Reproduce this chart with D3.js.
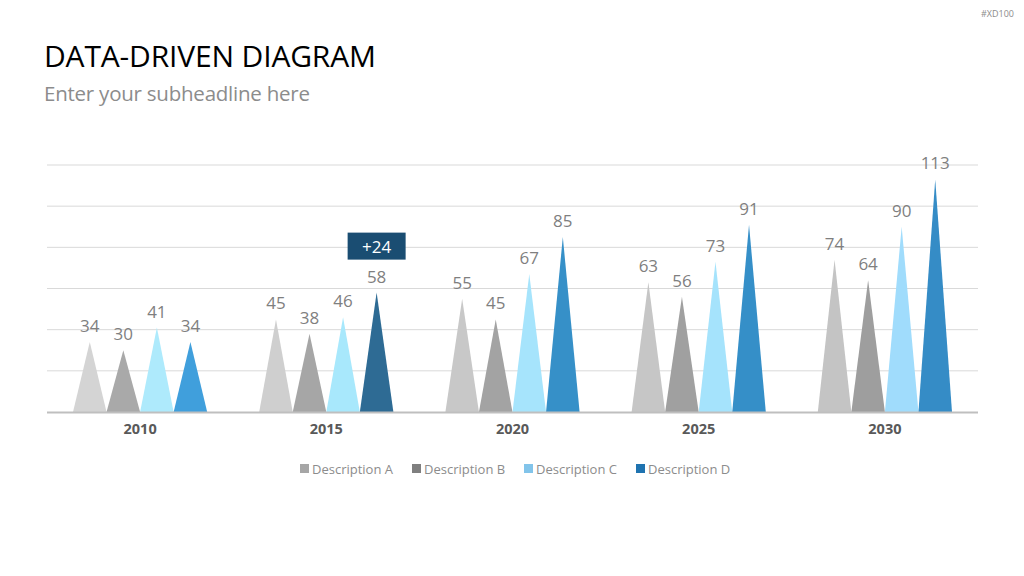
<!DOCTYPE html>
<html>
<head>
<meta charset="utf-8">
<script src="https://cdn.jsdelivr.net/npm/d3@7"></script>
<style>
  body { margin: 0; background: #fff; }
  svg text { font-family: "Open Sans", "Noto Sans", sans-serif; }
</style>
</head>
<body>
<div id="chart"></div>
<script>
// chart data
const years = ["2010", "2015", "2020", "2025", "2030"];
const seriesNames = ["Description A", "Description B", "Description C", "Description D"];
const descA = [34, 45, 55, 63, 74];
const descB = [30, 38, 45, 56, 64];
const descC = [41, 46, 67, 73, 90];
const descD = [34, 58, 85, 91, 113];
const yTicks = [0, 20, 40, 60, 80, 100, 120];
const callout = { year: "2015", series: "Description D", text: "+24" };

// colours (each year uses slightly different shades)
const legendColors = ["#a6a6a6", "#7f7f7f", "#82c4ea", "#1f73b0"];
const shadeColors = [
  ["#d4d4d4", "#a9a9a9", "#aeeafc", "#409fdc"],
  ["#cfcfcf", "#a6a6a6", "#a8e8fc", "#2e6b94"],
  ["#c8c8c8", "#a3a3a3", "#a6e4fc", "#3690c8"],
  ["#c6c6c6", "#a0a0a0", "#a5e3fc", "#358fc8"],
  ["#c4c4c4", "#9e9e9e", "#a0dcfc", "#358cc6"]
];

const width = 1024, height = 576;
const margin = { top: 165, right: 46, bottom: 164, left: 47 };

const svg = d3.select("#chart")
  .append("svg")
  .attr("width", width)
  .attr("height", height);

// headings
svg.append("text")
  .attr("x", 44).attr("y", 67)
  .attr("font-size", 30)
  .attr("fill", "#000")
  .attr("textLength", 332)
  .text("DATA-DRIVEN DIAGRAM");

svg.append("text")
  .attr("x", 44).attr("y", 101)
  .attr("font-size", 20.5)
  .attr("fill", "#8c8c8c")
  .attr("textLength", 266)
  .text("Enter your subheadline here");

svg.append("text")
  .attr("x", 1014).attr("y", 17)
  .attr("text-anchor", "end")
  .attr("font-size", 9)
  .attr("fill", "#8c8c8c")
  .text("#XD100");

const all = [descA, descB, descC, descD];
const rows = years.map((y, i) => ({
  year: y,
  values: seriesNames.map((s, j) => ({ series: s, value: all[j][i], color: shadeColors[i][j] }))
}));

const xScale = d3.scaleBand()
  .domain(years)
  .range([margin.left, width - margin.right])
  .paddingInner(0)
  .paddingOuter(0);

const xInner = d3.scaleBand()
  .domain(seriesNames)
  .range([26, xScale.bandwidth() - 26]);

const yScale = d3.scaleLinear()
  .domain([0, 120])
  .range([height - margin.bottom, margin.top]);

// grid lines
svg.append("g")
  .selectAll("line")
  .data(yTicks.slice(1))
  .join("line")
  .attr("x1", margin.left)
  .attr("x2", width - margin.right)
  .attr("y1", d => yScale(d))
  .attr("y2", d => yScale(d))
  .attr("stroke", "#d9d9d9")
  .attr("stroke-width", 1);

// triangles
const groups = svg.append("g")
  .selectAll("g")
  .data(rows)
  .join("g")
  .attr("transform", d => `translate(${xScale(d.year)},0)`);

groups.selectAll("path")
  .data(d => d.values)
  .join("path")
  .attr("d", d => {
    const x0 = xInner(d.series), x1 = x0 + xInner.bandwidth();
    const base = yScale(0), top = yScale(d.value);
    return `M${x0},${base}L${(x0 + x1) / 2},${top}L${x1},${base}Z`;
  })
  .attr("fill", d => d.color);

groups.selectAll("text.val")
  .data(d => d.values)
  .join("text")
  .attr("class", "val")
  .attr("x", d => xInner(d.series) + xInner.bandwidth() / 2)
  .attr("y", d => yScale(d.value) - 10)
  .attr("text-anchor", "middle")
  .attr("font-size", 17)
  .attr("fill", "#7f7f7f")
  .text(d => d.value);

// baseline
svg.append("line")
  .attr("x1", margin.left)
  .attr("x2", width - margin.right)
  .attr("y1", yScale(0) + 0.5)
  .attr("y2", yScale(0) + 0.5)
  .attr("stroke", "#bfbfbf")
  .attr("stroke-width", 2);

// x axis
const xAxis = svg.append("g")
  .attr("transform", `translate(0,${yScale(0)})`)
  .call(d3.axisBottom(xScale).tickSize(0).tickPadding(12));
xAxis.select(".domain").remove();
xAxis.selectAll("text")
  .attr("font-size", 14.5)
  .attr("font-weight", "bold")
  .attr("fill", "#595959")
  .style("font-family", "'Open Sans', sans-serif");

// callout box
const ci = years.indexOf(callout.year);
const cx = xScale(callout.year) + xInner(callout.series) + xInner.bandwidth() / 2;
const cTop = yScale(all[seriesNames.indexOf(callout.series)][ci]) - 60;
svg.append("rect")
  .attr("x", cx - 29)
  .attr("y", cTop)
  .attr("width", 58)
  .attr("height", 27)
  .attr("fill", "#1a4d72");
svg.append("text")
  .attr("x", cx)
  .attr("y", cTop + 20)
  .attr("text-anchor", "middle")
  .attr("font-size", 17)
  .attr("fill", "#fff")
  .text(callout.text);

// legend
const legendX = [300, 412, 524, 636];
const legend = svg.append("g")
  .selectAll("g")
  .data(seriesNames)
  .join("g")
  .attr("transform", (d, i) => `translate(${legendX[i]},469)`);
legend.append("rect")
  .attr("x", 0).attr("y", -5)
  .attr("width", 9).attr("height", 9)
  .attr("fill", (d, i) => legendColors[i]);
legend.append("text")
  .attr("x", 12).attr("y", 5)
  .attr("font-size", 13)
  .attr("fill", "#8c8c8c")
  .text(d => d);
</script>
</body>
</html>
